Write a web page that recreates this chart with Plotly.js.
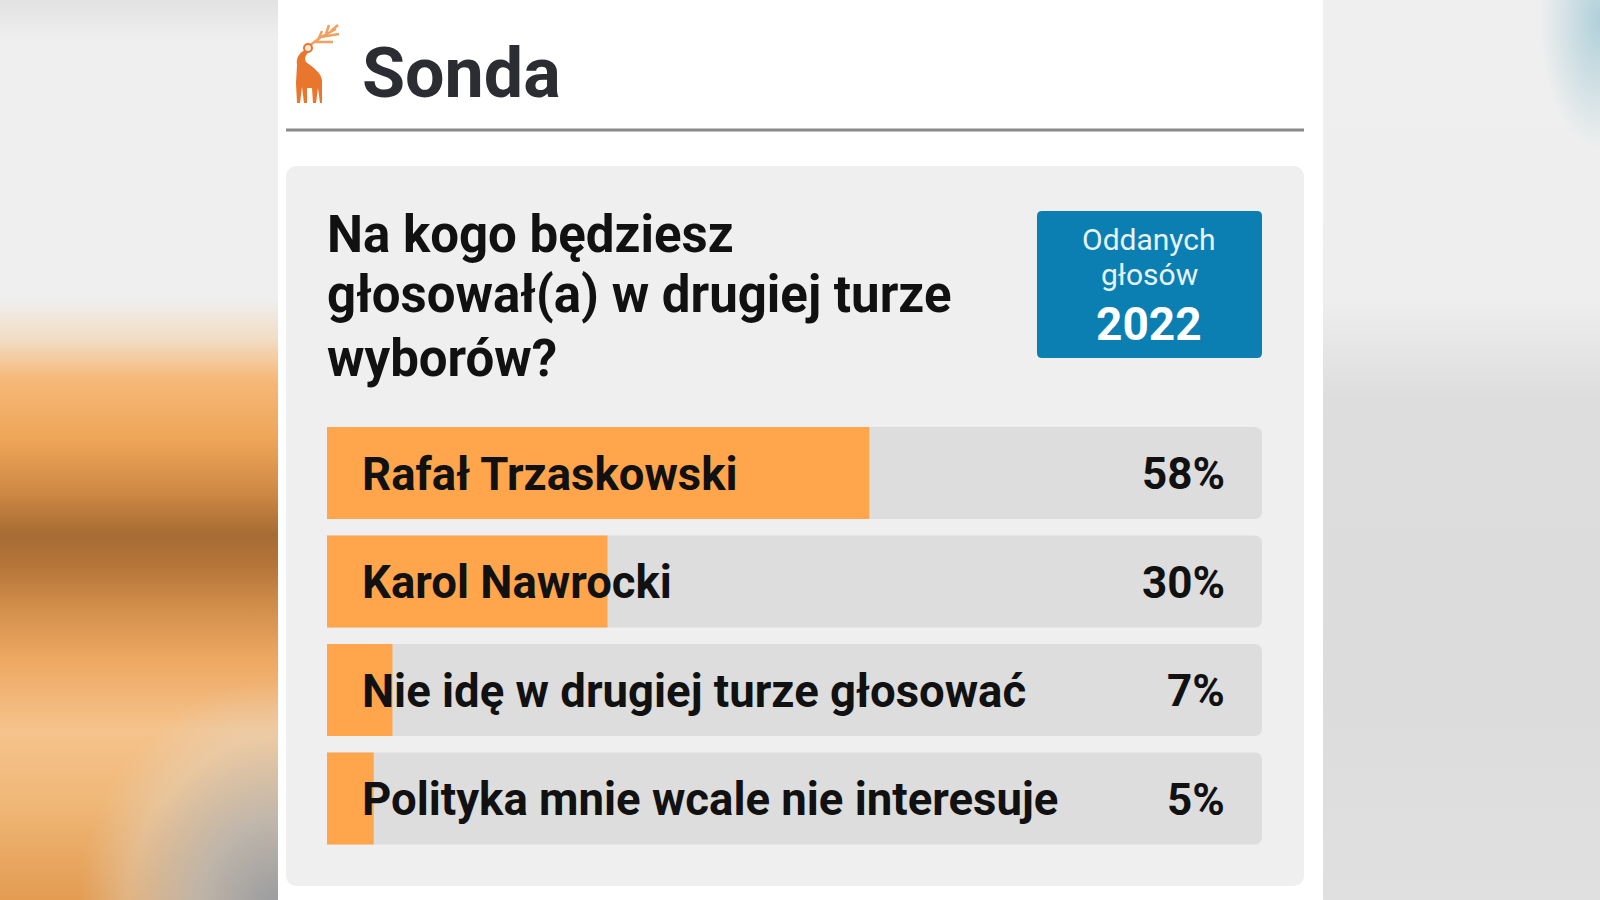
<!DOCTYPE html>
<html>
<head>
<meta charset="utf-8">
<script src="https://cdn.plot.ly/plotly-3.0.1.min.js"></script>
<style>
  html, body { margin:0; padding:0; width:1600px; height:900px; overflow:hidden; }
  #page {
    position:relative; width:1600px; height:900px;
    background:
      radial-gradient(ellipse 60px 130px at 277px 20px, rgba(160,200,212,0.8), rgba(200,220,226,0) 100%) 1323px 0 / 277px 900px no-repeat,
      radial-gradient(ellipse 200px 230px at 278px 910px, rgba(152,155,160,1) 0%, rgba(185,184,182,0.85) 40%, rgba(222,215,205,0.4) 75%, rgba(225,220,212,0) 100%) 0 0 / 278px 900px no-repeat,
      linear-gradient(#ffffff, #ffffff) 278px 0 / 1045px 900px no-repeat,
      linear-gradient(to bottom, #e2e2e2 0px, #efefef 40px, #efefef 300px, #f2dcc2 340px, #f6b878 380px, #eea558 440px, #d08a45 490px, #a66c33 535px, #b47538 565px, #d08d4a 605px, #eea862 660px, #f5c38c 730px, #f0b878 800px, #e39c52 900px) 0 0 / 278px 900px no-repeat,
      linear-gradient(to bottom, #efefef 0px, #eeeeee 300px, #dddddd 400px, #dcdcdc 700px, #e0e0e0 900px) 1323px 0 / 277px 900px no-repeat;
  }
  #chart { position:absolute; left:0; top:0; width:1600px; height:900px; }
</style>
</head>
<body>
<div id="page"><div id="chart"></div></div>
<script>
// ---- data ----
const categories = ['Rafał Trzaskowski', 'Karol Nawrocki', 'Nie idę w drugiej turze głosować', 'Polityka mnie wcale nie interesuje'];
const percentages = [58, 30, 7, 5];
const questionLines = ['Na kogo będziesz', 'głosował(a) w drugiej turze', 'wyborów?'];
const totalVotes = 2022;
const votesLabel = ['Oddanych', 'głosów'];
const headerText = 'Sonda';
const scaleMax = 100;

// ---- helpers (pixel -> paper) ----
const W = 1600, H = 900;
const px = x => x / W;
const py = y => 1 - y / H;
function rrect(x0, y0, x1, y1, r) {
  const P = (x, y) => px(x).toFixed(5) + ',' + py(y).toFixed(5);
  return 'M' + P(x0 + r, y0) + ' L' + P(x1 - r, y0) + ' Q' + P(x1, y0) + ' ' + P(x1, y0 + r) +
    ' L' + P(x1, y1 - r) + ' Q' + P(x1, y1) + ' ' + P(x1 - r, y1) +
    ' L' + P(x0 + r, y1) + ' Q' + P(x0, y1) + ' ' + P(x0, y1 - r) +
    ' L' + P(x0, y0 + r) + ' Q' + P(x0, y0) + ' ' + P(x0 + r, y0) + ' Z';
}
function pathPx(cmds) {
  return cmds.replace(/(-?\d+(?:\.\d+)?),(-?\d+(?:\.\d+)?)/g, (m, a, b) => px(+a).toFixed(5) + ',' + py(+b).toFixed(5));
}

const FONT = 'Roboto, "Noto Sans", sans-serif';
const orange = '#ffa64d';
const track = '#dddddd';

const traces = [
  {
    type: 'bar', orientation: 'h', y: categories, x: categories.map(() => scaleMax),
    marker: { color: track, cornerradius: 7 }, width: 0.848, hoverinfo: 'skip', showlegend: false
  },
  {
    type: 'bar', orientation: 'h', y: categories, x: percentages,
    marker: { color: orange, cornerradius: 7 }, width: 0.848, showlegend: false,
    hovertemplate: '%{y}: %{x}%<extra></extra>'
  }
];

const annotations = [];
categories.forEach((c, i) => {
  annotations.push({ xref: 'x', yref: 'y', x: 0, y: c, xanchor: 'left', yanchor: 'middle', xshift: 33, yshift: -1,
    text: c, showarrow: false, font: { family: FONT, size: 45.5, weight: 700, color: '#111111' } });
  annotations.push({ xref: 'x', yref: 'y', x: scaleMax, y: c, xanchor: 'right', yanchor: 'middle', xshift: -35, yshift: -1,
    text: percentages[i] + '%', showarrow: false, font: { family: FONT, size: 44, weight: 700, color: '#111111' } });
});
const qY = [234, 295, 358];
questionLines.forEach((t, i) => {
  annotations.push({ xref: 'paper', yref: 'paper', x: px(325), y: py(qY[i]), xanchor: 'left', yanchor: 'middle',
    text: t, showarrow: false, font: { family: FONT, size: 51, weight: 700, color: '#111111' } });
});
annotations.push({ xref: 'paper', yref: 'paper', x: px(1149), y: py(240), xanchor: 'center', yanchor: 'middle',
  text: votesLabel[0], showarrow: false, font: { family: FONT, size: 30, color: '#e6f3fa' } });
annotations.push({ xref: 'paper', yref: 'paper', x: px(1149), y: py(274), xanchor: 'center', yanchor: 'middle',
  text: votesLabel[1], showarrow: false, font: { family: FONT, size: 30, color: '#e6f3fa' } });
annotations.push({ xref: 'paper', yref: 'paper', x: px(1149), y: py(324), xanchor: 'center', yanchor: 'middle',
  text: String(totalVotes), showarrow: false, font: { family: FONT, size: 46, weight: 700, color: '#ffffff' } });

const shapes = [
  // gray box
  { type: 'path', xref: 'paper', yref: 'paper', path: rrect(286, 166, 1304, 886, 12), fillcolor: '#efefef', line: { width: 0 }, layer: 'below' },
  // header rule
  { type: 'line', xref: 'paper', yref: 'paper', x0: px(286), x1: px(1304), y0: py(130), y1: py(130), line: { color: '#8a8a8a', width: 3 }, layer: 'below' },
  // votes box
  { type: 'path', xref: 'paper', yref: 'paper', path: rrect(1037, 211, 1262, 358, 5), fillcolor: '#0b7fb2', line: { width: 0 }, layer: 'below' },
  // logo: deer antlers
  { type: 'path', xref: 'paper', yref: 'paper', line: { color: '#f2a060', width: 2.5 },
    path: pathPx('M309,46 L321,37 L336,29 M321,37 L339,34 M315,42 L333,42 M326,34 L329,25 M331,31 L338,25 M318,40 L322,31') },
  // logo: deer body
  { type: 'path', xref: 'paper', yref: 'paper', layer: 'above', fillcolor: '#e8762c', line: { width: 0 },
    path: pathPx('M305,50 C299,53 296,58 297,65 L296,83 L297,103 L300,103 L302,87 L304,103 L307,103 L307,88 L312,88 L313,103 L316,103 L318,88 L320,103 L322,103 L322,80 C321,73 314,68 306,62 C304,58 306,54 310,51 Z') },
  { type: 'circle', xref: 'paper', yref: 'paper', x0: px(304), x1: px(312), y0: py(52), y1: py(44), fillcolor: '#f5e6dc', line: { color: '#e8762c', width: 2 } }
];

const layout = {
  width: W, height: H,
  margin: { l: 0, r: 0, t: 0, b: 0, pad: 0 },
  paper_bgcolor: 'rgba(0,0,0,0)', plot_bgcolor: 'rgba(0,0,0,0)',
  barmode: 'overlay',
  title: { text: headerText, x: px(362), xanchor: 'left', xref: 'paper', y: py(72), yref: 'paper', yanchor: 'middle',
    font: { family: FONT, size: 70, weight: 700, color: '#2b2d33' } },
  xaxis: { domain: [px(327), px(1262)], range: [0, scaleMax], visible: false, fixedrange: true },
  yaxis: { domain: [py(852.75), py(418.75)], type: 'category', range: [3.5, -0.5], visible: false, fixedrange: true },
  shapes: shapes,
  annotations: annotations,
  showlegend: false
};

Plotly.newPlot('chart', traces, layout, { displayModeBar: false });
</script>
</body>
</html>
